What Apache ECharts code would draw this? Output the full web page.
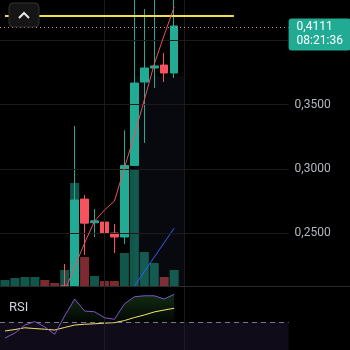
<!DOCTYPE html>
<html>
<head>
<meta charset="utf-8">
<script src="https://cdn.jsdelivr.net/npm/echarts@6/dist/echarts.min.js"></script>
<style>html,body{margin:0;padding:0;background:#000;}#c{width:350px;height:350px;}</style>
</head>
<body>
<div id="c"></div>
<script>
// ---- data ----
const categories = ['1','2','3','4','5','6','7','8','9','10','11','12','13','14','15','16','17','18','19','20','21','22','23','24','25','26','27','28','29'];
const opens  = [0.1880,0.1905,0.1930,0.1960,0.1990,0.1965,0.1950,0.2060,0.2764,0.2580,0.2585,0.2500,0.2469,0.3026,0.3675,0.3784,0.3807,0.3745];
const closes = [0.1905,0.1930,0.1960,0.1990,0.1965,0.1950,0.2060,0.2757,0.2577,0.2595,0.2500,0.2469,0.3026,0.3667,0.3784,0.3800,0.3745,0.4111];
const lows   = [0.1860,0.1890,0.1915,0.1945,0.1950,0.1935,0.1940,0.2040,0.2329,0.2469,0.2485,0.2345,0.2415,0.3026,0.3200,0.3629,0.3675,0.3706];
const highs  = [0.1930,0.1960,0.1985,0.2020,0.2010,0.1980,0.2259,0.3333,0.2796,0.2687,0.2590,0.2570,0.3299,0.4450,0.4243,0.4400,0.3901,0.4350];
const volumes = [60,80,90,90,60,30,160,1030,290,100,50,50,330,1160,340,230,90,160];
const maFast = [0.185,0.188,0.191,0.194,0.197,0.200,0.2046,0.2237,0.2422,0.2593,0.2679,0.2749,0.3005,0.3262,0.3535,0.3815,0.4040,0.4258];
const maSlow = ['-','-','-','-','-','-','-','-','-','-','-','-',0.1975,0.2087,0.2200,0.2313,0.2425,0.2538];
const rsi    = [60.0,63.1,68.1,70.3,66.9,62.3,73.8,84.4,76.9,76.4,72.7,71.7,81.3,85.8,86.4,86.4,84.4,87.3];
const rsiMa  = [64.4,65.3,66.4,65.9,65.5,65.0,66.6,68.1,68.6,68.9,69.3,69.6,70.9,72.8,74.4,76.3,77.5,78.6];
const priceTicks = [0.25,0.30,0.35,0.40];
const priceTickLabels = ['0,2500','0,3000','0,3500',''];
const rsiTicks = [80,60];
const rsiTickLabels = ['80,00','60,00'];
const lastPrice = 0.4111;
const lastPriceLabel = '0,4111';
const countdown = '08:21:36';
const drawnLevel = 0.4189;
const vGridCats = [10,18];

const PMIN = 0.2088, PMAX = 0.4313;
const UP = '#22ab94', DOWN = '#f7525f';
// candles fully below the visible price range are off-screen; partially visible ones are cut at the pane bottom
const candleData = opens.map((o,i)=>{
  if (highs[i] < PMIN) return '-';
  const c = v=>Math.max(v,PMIN);
  return [c(o), c(closes[i]), c(lows[i]), highs[i]];
});
const volData = volumes.map((v,i)=>({value:v, itemStyle:{color: closes[i]>=opens[i] ? 'rgba(34,171,148,0.5)' : 'rgba(247,82,95,0.5)'}}));
const rsiFill = rsi.map(v=>Math.max(v,70));

const chart = echarts.init(document.getElementById('c'), null, {renderer:'canvas'});
const gridL = -7.2, gridW = 295.8;
const faint = '#1b1b1b';
chart.setOption({
  backgroundColor:'#000',
  animation:false,
  textStyle:{fontFamily:'Roboto'},
  grid:[
    {left:gridL, top:0, width:gridW, height:286},
    {left:gridL, top:287, width:gridW, height:63}
  ],
  xAxis:[
    {type:'category', data:categories, gridIndex:0, boundaryGap:true, show:false},
    {type:'category', data:categories, gridIndex:1, boundaryGap:true, show:false}
  ],
  yAxis:[
    {type:'value', gridIndex:0, min:PMIN, max:PMAX, show:false, splitLine:{show:false}},
    {type:'value', gridIndex:0, min:0, max:2860, show:false, splitLine:{show:false}},
    {type:'value', gridIndex:1, min:52.5, max:91.9, show:false, splitLine:{show:false}}
  ],
  graphic:[
    {type:'line', shape:{x1:0,y1:286.5,x2:350,y2:286.5}, style:{stroke:'#2b2b2b', lineWidth:1}, z:50},
    {type:'rect', shape:{x:9,y:3,width:30,height:24,r:4}, style:{fill:'#151515', stroke:'#333', lineWidth:1}, z:50},
    {type:'polyline', shape:{points:[[19,18],[24,13],[29,18]]}, style:{stroke:'#e6e6e6', lineWidth:2, fill:null}, z:51},
    {type:'text', left:9, top:301, style:{text:'RSI', fill:'#d1d4dc', font:'13px Roboto'}, z:50}
  ],
  series:[
    {
      type:'line', name:'grid', xAxisIndex:0, yAxisIndex:0, data:[], symbol:'none', z:0,
      markLine:{silent:true, symbol:'none', animation:false,
        lineStyle:{color:faint, type:'solid', width:1},
        label:{show:true, position:'end', distance:6, color:'#b2b5be', fontSize:12, fontFamily:'Roboto',
          formatter:p=>priceTickLabels[priceTicks.indexOf(p.value)] || ''},
        data:priceTicks.map(v=>({yAxis:v})).concat(vGridCats.map(c=>({xAxis:categories[c], label:{show:false}})))
      },
      markArea:{silent:true, itemStyle:{color:'rgba(70,90,140,0.10)'},
        data:[[{xAxis:categories[13], yAxis:0.372},{xAxis:categories[18], yAxis:PMIN}]]}
    },
    {
      type:'bar', name:'vol', xAxisIndex:0, yAxisIndex:1, data:volData, barWidth:9, z:1
    },
    {
      type:'candlestick', name:'price', xAxisIndex:0, yAxisIndex:0, data:candleData, barWidth:8, z:3, clip:true,
      itemStyle:{color:UP, color0:DOWN, borderColor:UP, borderColor0:DOWN, borderWidth:1}
    },
    {
      type:'line', name:'maSlow', xAxisIndex:0, yAxisIndex:0, data:maSlow, symbol:'none', z:4,
      lineStyle:{color:'#2962ff', width:1}
    },
    {
      type:'line', name:'maFast', xAxisIndex:0, yAxisIndex:0, data:maFast, symbol:'none', z:5,
      lineStyle:{color:'#e8505e', width:1},
      markLine:{silent:true, symbol:'none', animation:false,
        data:[
          [{coord:[categories[0], drawnLevel], lineStyle:{color:'#f0dc50', width:2, type:'solid'}, label:{show:false}},
           {coord:[categories[23], drawnLevel]}],
          {yAxis:lastPrice, lineStyle:{color:'#d98c9a', width:1, type:[1,3]},
           label:{show:true, position:'end', distance:0, offset:[0,7],
             formatter:lastPriceLabel+'\n'+countdown, color:'#fff', fontSize:12, fontFamily:'Roboto',
             lineHeight:14, backgroundColor:UP, padding:[2,8,2,8], borderRadius:3}}
        ]
      }
    },
    {
      type:'line', name:'rsiFill', xAxisIndex:1, yAxisIndex:2, data:rsiFill, symbol:'none', z:2,
      lineStyle:{width:0, opacity:0},
      areaStyle:{origin:70, color:new echarts.graphic.LinearGradient(0,0,0,1,[
        {offset:0, color:'rgba(60,160,70,0.40)'},{offset:1, color:'rgba(60,160,70,0.06)'}])},
      markArea:{silent:true, itemStyle:{color:'rgba(126,87,194,0.12)'},
        data:[[{yAxis:70},{yAxis:52.5}]]}
    },
    {
      type:'line', name:'rsiMa', xAxisIndex:1, yAxisIndex:2, data:rsiMa, symbol:'none', z:4,
      lineStyle:{color:'#f3e46a', width:1}
    },
    {
      type:'line', name:'rsi', xAxisIndex:1, yAxisIndex:2, data:rsi, symbol:'none', z:5,
      lineStyle:{color:'#7e57c2', width:1},
      markLine:{silent:true, symbol:'none', animation:false,
        data:[
          {yAxis:70, lineStyle:{color:'#787b86', width:1, type:[5,4]}, label:{show:false}}
        ].concat(rsiTicks.map((v,i)=>({yAxis:v, lineStyle:{opacity:0},
          label:{show:true, position:'end', distance:6, color:'#b2b5be', fontSize:12, fontFamily:'Roboto', formatter:rsiTickLabels[i]}})))
         .concat(vGridCats.map(c=>({xAxis:categories[c], lineStyle:{color:faint, type:'solid', width:1}, label:{show:false}})))
      }
    }
  ]
});
</script>
</body>
</html>
